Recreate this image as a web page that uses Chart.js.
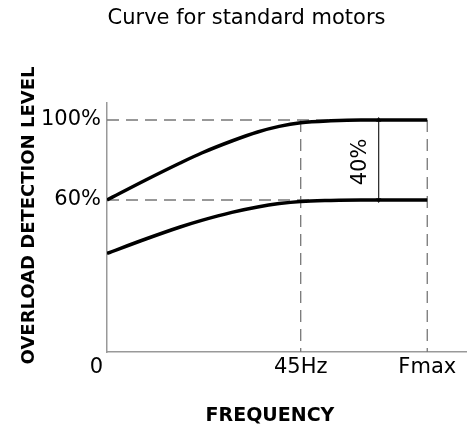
<!DOCTYPE html>
<html>
<head>
<meta charset="utf-8">
<script src="https://cdn.jsdelivr.net/npm/chart.js@4"></script>
<style>
  html, body { margin: 0; padding: 0; background: #fff; }
  #wrap { width: 471px; height: 430px; }
</style>
</head>
<body>
<div id="wrap"><canvas id="overloadChart" width="471" height="430"></canvas></div>
<script>
// data
const FMAX = 74.4;                       // position of "Fmax" on the Hz axis
const freqHz = [0, 9, 17, 22, 29, 35, 40, 45, 52, 59, FMAX];
const upperLevel = [60, 70, 78.5, 83.5, 89.5, 94, 96.8, 98.6, 99.6, 100, 100];
const lowerLevel = [33.3, 40.5, 46.5, 49.8, 53.8, 56.5, 58.2, 59.3, 59.8, 60, 60];

const refLevels = [100, 60];             // dashed horizontals
const refFreqs = [45, FMAX];             // dashed verticals
const arrowFreq = 63.1;                  // the "40%" dimension arrow

const xTicks = [0, 45, FMAX];
const xTickLabels = ['0', '45Hz', 'Fmax'];
const yTicks = [60, 100];
const yTickLabels = ['60%', '100%'];

const X_MAX = 83.4;
const Y_MIN = -16;
const Y_MAX = 108.5;

const FONT = "'DejaVu Sans', sans-serif";
const DASH_GREY = '#777';

const toPoints = (xs, ys) => xs.map((x, i) => ({ x: x, y: ys[i] }));

const datasets = [
    {
        label: 'upper',
        data: toPoints(freqHz, upperLevel),
        borderColor: '#000',
        borderWidth: 3.5,
        pointRadius: 0,
        cubicInterpolationMode: 'monotone'
    },
    {
        label: 'lower',
        data: toPoints(freqHz, lowerLevel),
        borderColor: '#000',
        borderWidth: 3.5,
        pointRadius: 0,
        cubicInterpolationMode: 'monotone'
    },
    {
        label: 'arrow',
        data: [{ x: arrowFreq, y: refLevels[0] }, { x: arrowFreq, y: refLevels[1] }],
        borderColor: '#333',
        backgroundColor: '#333',
        borderWidth: 1,
        pointStyle: 'triangle',
        pointRadius: 2.5,
        pointRotation: [0, 180]
    }
];

// dashed guide lines
refLevels.forEach(lvl => {
    datasets.push({
        label: 'h' + lvl,
        data: [{ x: 0, y: lvl }, { x: FMAX, y: lvl }],
        borderColor: DASH_GREY,
        borderWidth: 1.3,
        borderDash: [12, 7],
        pointRadius: 0
    });
});
refFreqs.forEach(f => {
    datasets.push({
        label: 'v' + f,
        data: [{ x: f, y: refLevels[0] }, { x: f, y: Y_MIN }],
        borderColor: DASH_GREY,
        borderWidth: 1.3,
        borderDash: [12, 7],
        pointRadius: 0
    });
});

// extra texts: axis titles, the origin "0" and the "40%" dimension
const annotations = {
    id: 'annotations',
    afterDraw(chart) {
        const { ctx, scales: { x, y } } = chart;
        ctx.save();
        ctx.fillStyle = '#000';
        ctx.textAlign = 'center';
        ctx.textBaseline = 'middle';

        ctx.font = 'bold 18px ' + FONT;
        ctx.save();
        ctx.translate(29, 215.5);
        ctx.rotate(-Math.PI / 2);
        ctx.fillText('OVERLOAD DETECTION LEVEL', 0, 0);
        ctx.restore();

        ctx.font = 'bold 19px ' + FONT;
        ctx.fillText('FREQUENCY', 270, 416);

        ctx.font = '21px ' + FONT;
        ctx.fillText(xTickLabels[0], x.getPixelForValue(xTicks[0]) - 10.5, y.bottom + 16);

        ctx.save();
        ctx.translate(x.getPixelForValue(arrowFreq) - 18, y.getPixelForValue(80) + 2);
        ctx.rotate(-Math.PI / 2);
        ctx.fillText('40%', 0, 0);
        ctx.restore();

        ctx.restore();
    }
};

new Chart(document.getElementById('overloadChart'), {
    type: 'line',
    data: { datasets: datasets },
    options: {
        responsive: false,
        animation: false,
        layout: { padding: { left: 23, right: 1, top: 0, bottom: 0 } },
        plugins: {
            legend: { display: false },
            tooltip: { enabled: false },
            title: {
                display: true,
                text: 'Curve for standard motors',
                color: '#000',
                font: { family: FONT, size: 21, weight: 'normal', lineHeight: 1.2 },
                padding: { top: 6, bottom: 71.8 }
            }
        },
        scales: {
            x: {
                type: 'linear',
                min: 0,
                max: X_MAX,
                grid: { display: false, drawTicks: false },
                border: { display: true, color: '#999', width: 1.5 },
                afterBuildTicks: (scale) => { scale.ticks = xTicks.map(v => ({ value: v })); },
                afterFit: (scale) => { scale.height = 78; },
                ticks: {
                    padding: 3,
                    color: '#000',
                    maxRotation: 0,
                    autoSkip: false,
                    font: { family: FONT, size: 21 },
                    callback: (v, i) => (i === 0 ? '' : xTickLabels[i])
                }
            },
            y: {
                type: 'linear',
                min: Y_MIN,
                max: Y_MAX,
                grid: { display: false, drawTicks: false },
                border: { display: true, color: '#999', width: 1.5 },
                afterBuildTicks: (scale) => { scale.ticks = yTicks.map(v => ({ value: v })); },
                afterFit: (scale) => { scale.width = 84; },
                ticks: {
                    padding: 6,
                    color: '#000',
                    autoSkip: false,
                    font: { family: FONT, size: 21 },
                    callback: (v, i) => yTickLabels[i]
                }
            }
        }
    },
    plugins: [annotations]
});
</script>
</body>
</html>
